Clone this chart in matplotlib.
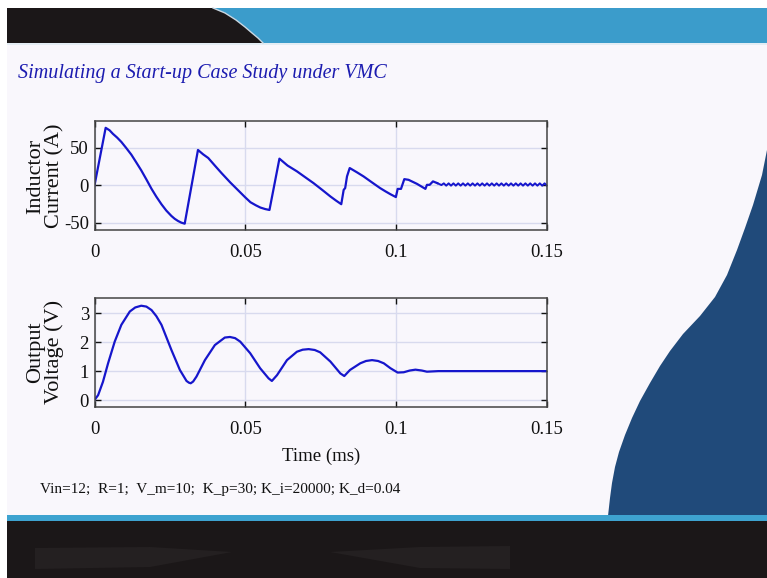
import numpy as np
import matplotlib
matplotlib.use("Agg")
import matplotlib.pyplot as plt
from matplotlib.patches import Polygon, Rectangle

plt.rcParams['font.family'] = ['Liberation Serif', 'DejaVu Serif']
plt.rcParams['axes.unicode_minus'] = False

# ---------------- data ----------------
title_text = "Simulating a Start-up Case Study under VMC"
caption_text = "Vin=12;  R=1;  V_m=10;  K_p=30; K_i=20000; K_d=0.04"
ylabel_current = "Inductor\nCurrent (A)"
ylabel_voltage = "Output\nVoltage (V)"
xlabel_text = "Time (ms)"

x_ticks = [0, 0.05, 0.1, 0.15]
x_tick_labels = ["0", "0.05", "0.1", "0.15"]
i_ticks = [-50, 0, 50]
i_tick_labels = ["-50", "0", "50"]
v_ticks = [0, 1, 2, 3]
v_tick_labels = ["0", "1", "2", "3"]

# inductor current (A)
t_current = [0.0, 0.0037, 0.0050, 0.0061, 0.0075, 0.0089, 0.0105, 0.0122, 0.0138,
             0.0155, 0.0172, 0.0189, 0.0205, 0.0222, 0.0238, 0.0255, 0.0266,
             0.0277, 0.0288, 0.0299, 0.0343, 0.0360, 0.0377, 0.0400, 0.0421,
             0.0450, 0.0480, 0.0500, 0.0517, 0.0535, 0.0550, 0.0566, 0.0580,
             0.0613, 0.0640, 0.0671, 0.0700, 0.0726, 0.0755, 0.0782, 0.0800,
             0.0818, 0.0826, 0.0831, 0.0837, 0.0846, 0.0870, 0.0892, 0.0920,
             0.0947, 0.0965, 0.0981, 0.0999, 0.1005, 0.1016, 0.1027, 0.1041,
             0.1069, 0.1097, 0.1102, 0.1111, 0.1122, 0.1136]
i_current = [0.0, 76.8, 73.5, 68.8, 63.8, 58.0, 50.0, 41.1, 31.0,
             20.1, 8.0, -4.5, -15.0, -25.1, -33.5, -40.7, -44.5,
             -47.4, -49.6, -51.0, 47.3, 41.5, 36.6, 26.0, 16.5,
             4.0, -8.0, -16.0, -22.4, -26.5, -29.5, -31.5, -32.7,
             35.7, 26.5, 18.8, 10.5, 3.1, -6.0, -14.7, -20.0,
             -25.0, -5.9, -3.5, 12.0, 23.2, 17.5, 12.0, 4.0,
             -3.6, -8.0, -11.7, -15.5, -4.6, -4.6, 8.4, 7.5,
             2.1, -4.6, 0.8, 0.8, 5.4, 3.1]
# steady-state switching ripple after t = 0.1136
i_ripple = [0.5, 2.8, -0.3, 2.8, -0.3, 2.8, -0.3, 2.8, -0.3, 2.8, -0.3, 2.8,
            -0.3, 2.8, -0.3, 2.8, -0.3, 2.8, -0.3, 2.8, -0.3, 2.8, -0.3, 2.8,
            -0.3, 2.8, -0.3, 2.8, -0.3, 2.8, -0.3, 2.8, -0.3, 2.8, -0.3, 2.8,
            -0.3, 2.8, -0.3, 2.8, -0.3, 2.8, -0.3, 2.8, -0.3]
t_ripple_start, t_ripple_end = 0.1150, 0.1500

# output voltage (V)
t_voltage = [0.0, 0.0012, 0.0028, 0.0045, 0.0067, 0.0089, 0.0117, 0.0135, 0.0155,
             0.0172, 0.0189, 0.0205, 0.0222, 0.0255, 0.0283, 0.0305, 0.0313,
             0.0319, 0.0327, 0.0338, 0.0366, 0.0399, 0.0432, 0.0449, 0.0466,
             0.0483, 0.0516, 0.0549, 0.0577, 0.0588, 0.0605, 0.0638, 0.0671,
             0.0690, 0.0710, 0.0730, 0.0748, 0.0782, 0.0815, 0.0828, 0.0847,
             0.0881, 0.0900, 0.0920, 0.0940, 0.0959, 0.0981, 0.1005, 0.1025,
             0.1045, 0.1064, 0.1085, 0.1102, 0.1140, 0.1500]
v_voltage = [0.0, 0.17, 0.63, 1.27, 2.02, 2.60, 3.06, 3.20, 3.26,
             3.23, 3.11, 2.90, 2.60, 1.73, 1.04, 0.66, 0.60,
             0.58, 0.64, 0.81, 1.38, 1.90, 2.16, 2.18, 2.14,
             2.02, 1.62, 1.10, 0.75, 0.66, 0.86, 1.38, 1.67,
             1.74, 1.76, 1.73, 1.65, 1.33, 0.92, 0.83, 1.04,
             1.27, 1.35, 1.38, 1.35, 1.27, 1.10, 0.95, 0.96,
             1.02, 1.05, 1.02, 0.98, 1.00, 1.00]

# ---------------- figure ----------------
W, H = 767, 578
fig = plt.figure(figsize=(W / 100, H / 100), dpi=100)
slide_bg = '#f9f7fc'
fig.patch.set_facecolor(slide_bg)

def fx(px):
    return px / W

def fy(py):
    return 1 - py / H

# decorative slide background
bg = fig.add_axes([0, 0, 1, 1], zorder=-10)
bg.set_xlim(0, W)
bg.set_ylim(H, 0)
bg.axis('off')
black = '#1b1718'
bg.add_patch(Rectangle((0, 0), W, 8, color='#ffffff', lw=0))
bg.add_patch(Rectangle((0, 0), 7, H, color='#ffffff', lw=0))
bg.add_patch(Rectangle((7, 8), W - 7, 35, color='#3b9ccb', lw=0))
bg.add_patch(Polygon([(7, 8), (213, 8), (225, 13), (236, 20), (245, 27), (252, 33),
                      (258, 38), (263, 43), (7, 43)],
                     closed=True, color=black, lw=0))
bg.plot([213, 225, 236, 245, 252, 258, 263], [8, 13, 20, 27, 33, 38, 43],
        color='#c9d7e2', lw=1)
bg.add_patch(Rectangle((7, 43), W - 7, 2, color='#e4edf4', lw=0))
# right wave
bg.add_patch(Polygon([(767, 150), (762, 175), (753, 205), (745, 228), (737, 250),
                      (727, 275), (715, 297), (700, 316), (683, 334), (670, 351),
                      (660, 366), (650, 383), (640, 401), (632, 418), (625, 435),
                      (619, 452), (615, 467), (612, 483), (610, 498), (608, 516),
                      (767, 516)],
                     closed=True, color='#204a7a', lw=0))
# bottom bands
bg.add_patch(Rectangle((7, 515), W - 7, 6, color='#3ea3d0', lw=0))
bg.add_patch(Rectangle((7, 521), W - 7, H - 521, color=black, lw=0))
bg.add_patch(Polygon([(35, 548), (150, 547), (232, 552), (150, 567), (35, 569)],
                     closed=True, color='#242021', lw=0))
bg.add_patch(Polygon([(330, 552), (420, 547), (510, 546), (510, 569), (420, 568)],
                     closed=True, color='#242021', lw=0))

# title and caption
fig.text(fx(18), fy(78), title_text, fontsize=14.5, style='italic',
         color='#1c1cb0', va='baseline', ha='left')
fig.text(fx(40), fy(493), caption_text, fontsize=11, color='#111111',
         va='baseline', ha='left')

line_color = '#1616cc'
grid_color = '#d8daee'

def style_axes(ax, yticks, ylabels, ylim):
    ax.set_facecolor(slide_bg)
    ax.set_xlim(0, 0.15)
    ax.set_ylim(*ylim)
    ax.set_xticks(x_ticks)
    ax.set_xticklabels(x_tick_labels)
    ax.set_yticks(yticks)
    ax.set_yticklabels(ylabels)
    ax.grid(True, color=grid_color, lw=1.0)
    ax.set_axisbelow(True)
    ax.tick_params(direction='in', length=4.5, width=1.0, top=True, right=True,
                   labelsize=13.5, colors='#111111')
    ax.tick_params(axis='x', pad=10)
    ax.tick_params(axis='y', pad=4)
    for s in ax.spines.values():
        s.set_color('#444444')
        s.set_linewidth(1.1)

ax1 = fig.add_axes([fx(94.5), fy(230.3), (547 - 94.5) / W, (230.3 - 121.3) / H])
style_axes(ax1, i_ticks, i_tick_labels, (-59.8, 85.5))
ax1.plot(t_current, i_current, color=line_color, lw=1.6, solid_joinstyle='round')
t_r = np.linspace(t_ripple_start, t_ripple_end, len(i_ripple))
ax1.plot(np.concatenate([[t_current[-1]], t_r]), np.concatenate([[i_current[-1]], i_ripple]),
         color=line_color, lw=1.4)

ax2 = fig.add_axes([fx(94.5), fy(406.7), (547 - 94.5) / W, (406.7 - 298.2) / H])
style_axes(ax2, v_ticks, v_tick_labels, (-0.23, 3.52))
ax2.plot(t_voltage, v_voltage, color=line_color, lw=1.6, solid_joinstyle='round')

# y labels
fig.text(fx(45.5), fy(176), ylabel_current, rotation=90, fontsize=16,
         ha='center', va='center', multialignment='center', linespacing=0.95,
         color='#111111')
fig.text(fx(45.5), fy(352), ylabel_voltage, rotation=90, fontsize=16,
         ha='center', va='center', multialignment='center', linespacing=0.95,
         color='#111111')
fig.text(fx(321), fy(456), xlabel_text, fontsize=13.5, ha='center', va='center',
         color='#111111')

fig.savefig('out.png', dpi=100, facecolor=fig.get_facecolor())
